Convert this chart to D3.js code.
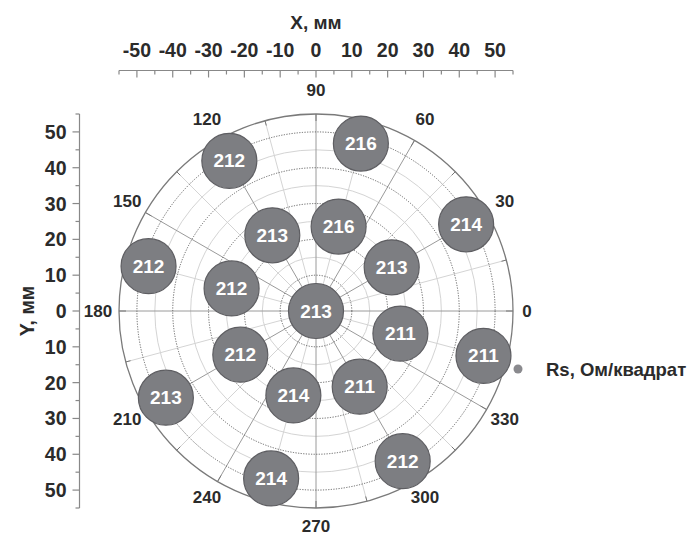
<!DOCTYPE html>
<html><head><meta charset="utf-8">
<script src="https://cdn.jsdelivr.net/npm/d3@7"></script>
<style>
html,body{margin:0;padding:0;background:#fff;}
svg{display:block;font-family:"Liberation Sans",Arial,sans-serif;font-weight:bold;}
</style></head>
<body>
<script>
// Data: sheet resistance points (polar: radius mm, angle deg)
const values  = [213, 216, 213, 213, 212, 212, 214, 211, 211, 216, 212, 214, 212, 213, 214, 212, 211];
const radii   = [0,   24.4, 24.4, 24.4, 24.4, 24.4, 24.4, 24.4, 24.4, 48.4, 48.4, 48.4, 48.4, 48.4, 48.4, 48.4, 48.4];
const angles  = [0,   75,   120,  30,   165,  210,  255,  300,  345,  75,   120,  30,   165,  210,  255,  300,  345];
const xTicks = [-50,-40,-30,-20,-10,0,10,20,30,40,50];
const yTicks = [-50,-40,-30,-20,-10,0,10,20,30,40,50];
const angleTicks = [0,30,60,90,120,150,180,210,240,270,300,330];
const legendLabel = "Rs, Ом/квадрат";

const W=692,H=534;
const cx=316, cy=311, R=197;
const svg=d3.select("body").append("svg").attr("width",W).attr("height",H);
const ink="#2b2b2b";

const x=d3.scaleLinear().domain([-55,55]).range([cx-R,cx+R]);
const y=d3.scaleLinear().domain([-55,55]).range([cy+R,cy-R]);
const rs=d3.scaleLinear().domain([0,55]).range([0,R]);
const rad=d=>d*Math.PI/180;

// Polar grid
const g=svg.append("g");
const minorCircles=[5,15,25,35,45], majorCircles=[10,20,30,40,50];
g.selectAll(".mc").data(minorCircles).join("circle").attr("cx",cx).attr("cy",cy)
 .attr("r",d=>rs(d)).attr("fill","none").attr("stroke","#d4d4d4").attr("stroke-width",1);
const spokes=d3.range(0,360,15);
g.selectAll(".sp").data(spokes).join("line")
 .attr("x1",cx).attr("y1",cy)
 .attr("x2",d=>cx+R*Math.cos(rad(d))).attr("y2",d=>cy-R*Math.sin(rad(d)))
 .attr("stroke",d=>d%30===0?"#9a9a9a":"#d4d4d4").attr("stroke-width",1);
g.selectAll(".Mc").data(majorCircles).join("circle").attr("cx",cx).attr("cy",cy)
 .attr("r",d=>rs(d)).attr("fill","none").attr("stroke","#555").attr("stroke-width",0.9)
 .attr("stroke-dasharray","1.2,1.4");
// angular ticks on outer circle
g.selectAll(".at").data(spokes).join("line")
 .attr("x1",d=>cx+R*Math.cos(rad(d))).attr("y1",d=>cy-R*Math.sin(rad(d)))
 .attr("x2",d=>cx+(R-(d%30===0?7:5))*Math.cos(rad(d))).attr("y2",d=>cy-(R-(d%30===0?7:5))*Math.sin(rad(d)))
 .attr("stroke","#777").attr("stroke-width",1);
g.append("circle").attr("cx",cx).attr("cy",cy).attr("r",R).attr("fill","none")
 .attr("stroke","#7a7a7a").attr("stroke-width",1.3);

// angle labels
svg.selectAll(".al").data(angleTicks).join("text")
 .attr("x",d=>cx+(d===0?211:218)*Math.cos(rad(d)))
 .attr("y",d=>{const s=Math.sin(rad(d));return cy-(218+3*s)*s;})
 .attr("text-anchor","middle").attr("dominant-baseline","central")
 .attr("font-size",17).attr("fill",ink).text(d=>d);

// X axis (top)
const minorT=d3.range(-55,56,5);
const xa=svg.append("g").attr("transform","translate(0,70.5)");
xa.append("line").attr("x1",x(-55)).attr("x2",x(55)).attr("stroke","#888").attr("stroke-width",1.2);
xa.selectAll("line.t").data(minorT).join("line").attr("class","t")
 .attr("x1",d=>x(d)).attr("x2",d=>x(d)).attr("y1",0).attr("y2",d=>d%10===0?7:4)
 .attr("stroke","#888").attr("stroke-width",1.2);
xa.selectAll("text").data(xTicks).join("text").attr("x",d=>x(d)).attr("y",-13.5)
 .attr("text-anchor","middle").attr("font-size",19.5).attr("fill",ink).text(d=>d);
svg.append("text").attr("x",cx).attr("y",29).attr("text-anchor","middle")
 .attr("font-size",19).attr("fill",ink).text("X, мм");

// Y axis (left)
const ya=svg.append("g").attr("transform","translate(79.5,0)");
ya.append("line").attr("y1",y(-55)).attr("y2",y(55)).attr("stroke","#888").attr("stroke-width",1.2);
ya.selectAll("line.t").data(minorT).join("line").attr("class","t")
 .attr("y1",d=>y(d)).attr("y2",d=>y(d)).attr("x1",0).attr("x2",d=>d%10===0?-7:-4)
 .attr("stroke","#888").attr("stroke-width",1.2);
ya.selectAll("text").data(yTicks).join("text").attr("x",-13).attr("y",d=>y(d))
 .attr("text-anchor","end").attr("dominant-baseline","central")
 .attr("font-size",19.5).attr("fill",ink).text(d=>Math.abs(d));
svg.append("text").attr("transform",`translate(27,${cy}) rotate(-90)`)
 .attr("text-anchor","middle").attr("dominant-baseline","central")
 .attr("font-size",19.5).attr("fill",ink).text("Y, мм");

// Bubbles
const pts=values.map((v,i)=>({v,
 px:x(radii[i]*Math.cos(rad(angles[i]))),
 py:y(radii[i]*Math.sin(rad(angles[i])))}));
const bg=svg.append("g");
bg.selectAll("circle").data(pts).join("circle").attr("cx",d=>d.px).attr("cy",d=>d.py)
 .attr("r",27.5).attr("fill","#7d7e82").attr("stroke","#5e5e62").attr("stroke-width",1.2);
bg.selectAll("text").data(pts).join("text").attr("x",d=>d.px).attr("y",d=>d.py)
 .attr("text-anchor","middle").attr("dominant-baseline","central")
 .attr("font-size",19).attr("fill","#fff").text(d=>d.v);

// Legend
svg.append("circle").attr("cx",518).attr("cy",369).attr("r",4.5).attr("fill","#8a8a8e");
svg.append("text").attr("x",546).attr("y",369).attr("dominant-baseline","central")
 .attr("font-size",18.5).attr("fill",ink).text(legendLabel);
</script>
</body></html>
